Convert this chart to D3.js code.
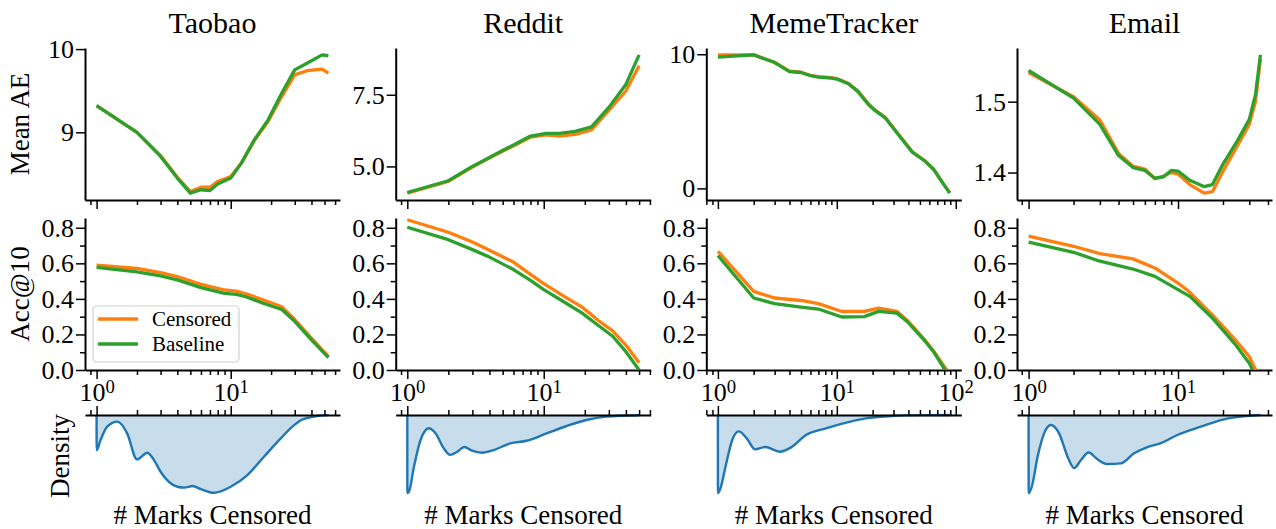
<!DOCTYPE html>
<html>
<head>
<meta charset="utf-8">
<script src="https://cdn.jsdelivr.net/npm/d3@7"></script>
<style>
  body { margin: 0; background: #fff; }
  svg text { font-family: "Liberation Serif", "DejaVu Serif", serif; fill: #000; }
  .axis path, .axis line { stroke: #000; }
  .axis .tick line { stroke-width: 1.5; }
  .axis path.domain { stroke-width: 2; }
</style>
</head>
<body>
<script>
const datasets = ["Taobao", "Reddit", "MemeTracker", "Email"];
const xMax = [53.5, 50, 89, 35.6];

// Mean AE, [marks censored, value]
const taobaoAeCensored = [[1,9.32],[2,9.00],[3,8.72],[4,8.46],[5,8.29],[6,8.34],[7,8.34],[8,8.41],[10,8.47],[12,8.63],[15,8.90],[19,9.13],[24,9.43],[30,9.69],[37,9.74],[48,9.76],[53.5,9.71]];
const taobaoAeBaseline = [[1,9.32],[2,9.00],[3,8.71],[4,8.45],[5,8.27],[6,8.31],[7,8.30],[8,8.38],[10,8.45],[12,8.63],[15,8.91],[19,9.15],[24,9.47],[30,9.75],[37,9.83],[48,9.93],[53.5,9.92]];
const redditAeCensored = [[1,4.07],[2,4.48],[3,4.98],[4.5,5.42],[8,6.02],[10.4,6.10],[13,6.06],[17,6.12],[22.4,6.27],[30,6.95],[40,7.63],[50,8.51]];
const redditAeBaseline = [[1,4.09],[2,4.50],[3,5.00],[4.5,5.44],[8,6.06],[10.4,6.15],[13,6.15],[17,6.22],[22.4,6.38],[30,7.06],[40,7.86],[50,8.89]];
const memeAeCensored = [[1,9.95],[2,9.95],[3,9.40],[4,8.74],[5,8.66],[6,8.43],[7,8.33],[9,8.25],[10,8.18],[12.5,7.84],[15,7.27],[18.5,6.30],[20.5,5.92],[25.5,5.30],[32,4.19],[43,2.75],[55,2.06],[65,1.45],[79,0.30],[89,-0.30]];
const memeAeBaseline = [[1,9.78],[2,9.95],[3,9.38],[4,8.71],[5,8.64],[6,8.40],[7,8.30],[9,8.22],[10,8.15],[12.5,7.80],[15,7.23],[18.5,6.24],[20.5,5.87],[25.5,5.26],[32,4.15],[43,2.71],[55,2.04],[65,1.43],[79,0.32],[89,-0.35]];
const emailAeCensored = [[1,1.541],[2,1.507],[3,1.474],[4,1.427],[5,1.409],[6,1.405],[7,1.391],[8,1.395],[9,1.400],[10,1.398],[12,1.383],[15,1.371],[17,1.373],[20,1.402],[25,1.438],[30,1.468],[33,1.500],[35.6,1.560]];
const emailAeBaseline = [[1,1.544],[2,1.505],[3,1.468],[4,1.424],[5,1.407],[6,1.403],[7,1.392],[8,1.394],[9,1.403],[10,1.402],[12,1.389],[15,1.380],[17,1.383],[20,1.412],[25,1.445],[30,1.475],[33,1.510],[35.6,1.566]];

// Acc@10
const taobaoAccCensored = [[1,0.590],[2,0.571],[3,0.548],[4,0.526],[6,0.482],[9,0.450],[11,0.444],[13,0.429],[17,0.397],[24,0.356],[30,0.284],[40,0.180],[53.5,0.075]];
const taobaoAccBaseline = [[1,0.577],[2,0.552],[3,0.529],[4,0.507],[6,0.463],[9,0.431],[11,0.425],[13,0.412],[17,0.378],[24,0.340],[30,0.274],[40,0.170],[53.5,0.070]];
const redditAccCensored = [[1,0.845],[2,0.775],[3,0.720],[4,0.673],[6,0.607],[8,0.538],[10,0.486],[15,0.402],[19,0.355],[25,0.280],[32,0.220],[40,0.140],[50,0.041]];
const redditAccBaseline = [[1,0.803],[2,0.733],[3,0.677],[4,0.635],[6,0.565],[8,0.504],[10,0.452],[15,0.370],[19,0.321],[25,0.252],[32,0.190],[40,0.103],[50,0.0]];
const memeAccCensored = [[1,0.668],[2,0.442],[3,0.405],[5,0.391],[7,0.373],[11,0.329],[17,0.330],[22.5,0.348],[32,0.330],[39,0.280],[54,0.175],[65,0.108],[80,0.020],[84.5,0.0]];
const memeAccBaseline = [[1,0.644],[2,0.405],[3,0.373],[5,0.354],[7,0.343],[11,0.298],[17,0.300],[22.5,0.330],[32,0.320],[39,0.273],[54,0.170],[65,0.103],[80,0.008],[82,0.0]];
const emailAccCensored = [[1,0.753],[2,0.696],[3,0.655],[5,0.625],[7,0.574],[10,0.489],[12,0.437],[17,0.310],[24,0.173],[30,0.075],[33.1,0.0]];
const emailAccBaseline = [[1,0.719],[2,0.662],[3,0.612],[5,0.568],[7,0.527],[10,0.452],[12,0.414],[17,0.292],[24,0.147],[30,0.038],[31.6,0.0]];

// density of censored marks (relative)
const taobaoDensity = [[1,0],[1.001,0.45],[1.07,0.32],[1.2,0.15],[1.43,0.085],[1.69,0.235],[2,0.568],[2.39,0.483],[2.68,0.577],[3,0.727],[4,0.919],[4.5,0.93],[5.2,0.91],[6,0.95],[7.5,0.996],[10,0.919],[13.3,0.77],[17.7,0.534],[23.6,0.3],[28.8,0.15],[33.6,0.064],[39,0.03],[45,0.01],[53.5,0.002]];
const redditDensity = [[1,0],[1.001,1.0],[1.03,0.98],[1.12,0.66],[1.25,0.32],[1.44,0.17],[1.61,0.235],[1.85,0.427],[2.06,0.51],[2.32,0.47],[2.62,0.41],[2.98,0.457],[3.53,0.483],[4.3,0.449],[5.68,0.363],[7.5,0.33],[10.5,0.235],[14.7,0.141],[20.5,0.064],[28.7,0.021],[50,0.003]];
const memeDensity = [[1,0],[1.001,1.0],[1.05,0.94],[1.16,0.66],[1.32,0.32],[1.5,0.21],[1.75,0.30],[2.06,0.44],[2.5,0.41],[3.33,0.47],[4.17,0.41],[5.5,0.256],[8.1,0.17],[12,0.098],[17.5,0.043],[29,0.013],[50,0.002],[89,0]];
const emailDensity = [[1,0],[1.001,1.0],[1.05,0.92],[1.15,0.53],[1.27,0.235],[1.41,0.128],[1.6,0.235],[1.82,0.53],[2.02,0.68],[2.24,0.577],[2.52,0.48],[2.89,0.568],[3.37,0.628],[4.14,0.62],[5.08,0.49],[6.24,0.41],[7.66,0.36],[9.9,0.256],[14.2,0.15],[20.3,0.055],[29,0.013],[35.6,0]];

const aeTicks = [[9, 10], [5.0, 7.5], [0, 10], [1.4, 1.5]];
const aeTickLabels = [["9", "10"], ["5.0", "7.5"], ["0", "10"], ["1.4", "1.5"]];
const accTicks = [0, 0.2, 0.4, 0.6, 0.8];
const accMinorTicks = [0.1, 0.3, 0.5, 0.7];
const accMax = 0.855;
const seriesNames = ["Censored", "Baseline"];

const aeData = [[taobaoAeCensored, taobaoAeBaseline], [redditAeCensored, redditAeBaseline], [memeAeCensored, memeAeBaseline], [emailAeCensored, emailAeBaseline]];
const accData = [[taobaoAccCensored, taobaoAccBaseline], [redditAccCensored, redditAccBaseline], [memeAccCensored, memeAccBaseline], [emailAccCensored, emailAccBaseline]];
const densData = [taobaoDensity, redditDensity, memeDensity, emailDensity];

const colors = ["#ff7f0e", "#2ca02c"];
const blue = "#1f77b4";

const svg = d3.select("body").append("svg")
   .attr("width", 1276)
   .attr("height", 529);

const colLeft = [85, 395.7, 706.3, 1017];
const colWidth = 255;
const rowAe = [48, 200], rowAcc = [218, 370], rowDens = [415, 497];

function logTicks(scale) {
   const [a, b] = scale.domain();
   const major = [], minor = [];
   for (let p = Math.floor(Math.log10(a)); p <= Math.ceil(Math.log10(b)); p++) {
      for (let k = 1; k < 10; k++) {
         const v = k * Math.pow(10, p);
         if (v < a || v > b) continue;
         (k === 1 ? major : minor).push(v);
      }
   }
   return {major, minor};
}

function powLabel(sel) {
   sel.each(function(d) {
      const t = d3.select(this).text(null);
      t.append("tspan").text("10");
      t.append("tspan").attr("dy", "-0.45em").attr("font-size", "0.72em").text(Math.round(Math.log10(d)));
   });
}

function clipFor(id, x0, y0, h) {
   svg.append("clipPath").attr("id", id)
      .append("rect").attr("x", x0).attr("y", y0 - 3).attr("width", colWidth).attr("height", h + 3);
   return "url(#" + id + ")";
}

datasets.forEach((name, i) => {
   const x0 = colLeft[i];
   const span = Math.log10(xMax[i]);
   const pad = span * 0.05;
   const x = d3.scaleLog()
      .domain([Math.pow(10, -pad), Math.pow(10, span + pad)])
      .range([x0, x0 + colWidth]);
   const ticks = logTicks(x);

   // title
   svg.append("text")
      .attr("x", x0 + colWidth / 2)
      .attr("y", 33)
      .attr("text-anchor", "middle")
      .style("font-size", "30px")
      .text(name);

   // ---- Mean AE row
   const aeAll = aeData[i][0].concat(aeData[i][1]).map(d => d[1]);
   const aeLo = d3.min(aeAll), aeHi = d3.max(aeAll), aePad = (aeHi - aeLo) * 0.05;
   const yAe = d3.scaleLinear().domain([aeLo - aePad, aeHi + aePad]).range([rowAe[1], rowAe[0]]);

   svg.append("g").attr("class", "axis")
      .attr("transform", `translate(0,${rowAe[1]})`)
      .call(d3.axisBottom(x).tickValues(ticks.minor).tickSize(5).tickSizeOuter(0).tickFormat(""))
      .call(g => g.select(".domain").remove());
   svg.append("g").attr("class", "axis")
      .attr("transform", `translate(0,${rowAe[1]})`)
      .call(d3.axisBottom(x).tickValues(ticks.major).tickSize(9).tickSizeOuter(0).tickFormat(""));
   svg.append("g").attr("class", "axis")
      .attr("transform", `translate(${x0},0)`)
      .call(d3.axisLeft(yAe).tickValues(aeTicks[i]).tickSize(9).tickSizeOuter(0).tickPadding(2)
         .tickFormat((d, k) => aeTickLabels[i][k]))
      .selectAll("text").style("font-size", "26px");

   const clipAe = clipFor("clip-ae-" + i, x0, rowAe[0], rowAe[1] - rowAe[0]);
   const lineAe = d3.line().x(d => x(d[0])).y(d => yAe(d[1]));
   aeData[i].forEach((s, k) => {
      svg.append("path")
         .datum(s)
         .attr("d", lineAe)
         .attr("clip-path", clipAe)
         .attr("fill", "none")
         .attr("stroke", colors[k])
         .attr("stroke-width", 3.3)
         .attr("stroke-linejoin", "round");
   });

   // ---- Acc@10 row
   const yAcc = d3.scaleLinear().domain([0, accMax]).range([rowAcc[1], rowAcc[0]]);

   svg.append("g").attr("class", "axis")
      .attr("transform", `translate(0,${rowAcc[1]})`)
      .call(d3.axisBottom(x).tickValues(ticks.minor).tickSize(5).tickSizeOuter(0).tickFormat(""))
      .call(g => g.select(".domain").remove());
   svg.append("g").attr("class", "axis")
      .attr("transform", `translate(0,${rowAcc[1]})`)
      .call(d3.axisBottom(x).tickValues(ticks.major).tickSize(9).tickSizeOuter(0).tickPadding(4))
      .selectAll("text").style("font-size", "26px").call(powLabel);
   svg.append("g").attr("class", "axis")
      .attr("transform", `translate(${x0},0)`)
      .call(d3.axisLeft(yAcc).tickValues(accMinorTicks).tickSize(5).tickSizeOuter(0).tickFormat(""))
      .call(g => g.select(".domain").remove());
   svg.append("g").attr("class", "axis")
      .attr("transform", `translate(${x0},0)`)
      .call(d3.axisLeft(yAcc).tickValues(accTicks).tickSize(9).tickSizeOuter(0).tickPadding(2)
         .tickFormat(d3.format(".1f")))
      .selectAll("text").style("font-size", "26px");

   const clipAcc = clipFor("clip-acc-" + i, x0, rowAcc[0], rowAcc[1] - rowAcc[0]);
   const lineAcc = d3.line().x(d => x(d[0])).y(d => yAcc(d[1]));
   accData[i].forEach((s, k) => {
      svg.append("path")
         .datum(s)
         .attr("d", lineAcc)
         .attr("clip-path", clipAcc)
         .attr("fill", "none")
         .attr("stroke", colors[k])
         .attr("stroke-width", 3.3)
         .attr("stroke-linejoin", "round");
   });

   // ---- Density row (hangs down from the axis)
   const yDens = d3.scaleLinear().domain([0, 1.05]).range([rowDens[0], rowDens[1]]);
   const area = d3.area().x(d => x(d[0])).y0(yDens(0)).y1(d => yDens(d[1])).curve(d3.curveMonotoneX);
   const lineDens = d3.line().x(d => x(d[0])).y(d => yDens(d[1])).curve(d3.curveMonotoneX);
   svg.append("path")
      .datum(densData[i])
      .attr("d", area)
      .attr("fill", blue)
      .attr("fill-opacity", 0.25);
   svg.append("path")
      .datum(densData[i])
      .attr("d", lineDens)
      .attr("fill", "none")
      .attr("stroke", blue)
      .attr("stroke-width", 2.4);

   svg.append("g").attr("class", "axis")
      .attr("transform", `translate(0,${rowDens[0]})`)
      .call(d3.axisTop(x).tickValues(ticks.minor).tickSize(5).tickSizeOuter(0).tickFormat(""))
      .call(g => g.select(".domain").remove());
   svg.append("g").attr("class", "axis")
      .attr("transform", `translate(0,${rowDens[0]})`)
      .call(d3.axisTop(x).tickValues(ticks.major).tickSize(9).tickSizeOuter(0).tickFormat(""));

   svg.append("text")
      .attr("x", x0 + colWidth / 2)
      .attr("y", 524)
      .attr("text-anchor", "middle")
      .style("font-size", "27px")
      .text("# Marks Censored");
});

// y labels
svg.append("text")
   .attr("transform", `translate(29,${(rowAe[0] + rowAe[1]) / 2}) rotate(-90)`)
   .attr("text-anchor", "middle")
   .style("font-size", "27px")
   .text("Mean AE");
svg.append("text")
   .attr("transform", `translate(29,${(rowAcc[0] + rowAcc[1]) / 2}) rotate(-90)`)
   .attr("text-anchor", "middle")
   .style("font-size", "27px")
   .text("Acc@10");
svg.append("text")
   .attr("transform", `translate(69,${(rowDens[0] + rowDens[1]) / 2}) rotate(-90)`)
   .attr("text-anchor", "middle")
   .style("font-size", "27px")
   .text("Density");

// legend in the Taobao Acc@10 panel
const legend = svg.append("g")
   .attr("transform", "translate(93,306)");
legend.append("rect")
   .attr("width", 146)
   .attr("height", 56)
   .attr("rx", 4)
   .attr("fill", "#fff")
   .attr("fill-opacity", 0.8)
   .attr("stroke", "#d0d0d0")
   .attr("stroke-width", 1.2);
const legendItems = legend.selectAll("g.item")
   .data(seriesNames)
   .enter().append("g")
   .attr("class", "item")
   .attr("transform", (d, k) => "translate(0," + (13 + k * 25) + ")");
legendItems.append("line")
   .attr("x1", 5).attr("x2", 45)
   .attr("stroke", (d, k) => colors[k])
   .attr("stroke-width", 3.3);
legendItems.append("text")
   .attr("x", 59)
   .attr("y", 7)
   .style("font-size", "21px")
   .text(d => d);
</script>
</body>
</html>
